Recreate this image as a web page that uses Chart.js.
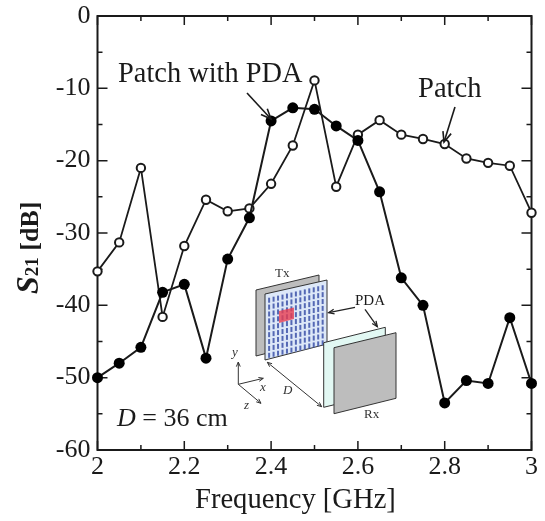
<!DOCTYPE html>
<html>
<head>
<meta charset="utf-8">
<title>S21 vs frequency</title>
<script src="https://cdn.jsdelivr.net/npm/chart.js@4/dist/chart.umd.min.js"></script>
<style>
    html, body { margin: 0; padding: 0; background: #fff; }
    canvas { display: block; }
</style>
</head>
<body>
<canvas id="chart" width="545" height="521"></canvas>
<script>
const frequency = [2, 2.05, 2.1, 2.15, 2.2, 2.25, 2.3, 2.35, 2.4, 2.45, 2.5, 2.55, 2.6, 2.65, 2.7, 2.75, 2.8, 2.85, 2.9, 2.95, 3];
const patch = [-35.3, -31.3, -21, -41.6, -31.8, -25.4, -27, -26.6, -23.2, -17.9, -8.9, -23.6, -16.4, -14.4, -16.4, -17, -17.7, -19.7, -20.3, -20.7, -27.2];
const patchWithPda = [-50, -48, -45.8, -38.2, -37.1, -47.3, -33.6, -27.9, -14.5, -12.7, -12.9, -15.2, -17.2, -24.3, -36.2, -40, -53.5, -50.4, -50.8, -41.7, -50.8];

const SERIF = '"Liberation Serif", "Times New Roman", serif';
const INK = '#1a1a1a';

function toPoints(values) {
    return frequency.map((f, i) => ({ x: f, y: values[i] }));
}

function poly(ctx, pts, fill, stroke) {
    ctx.beginPath();
    pts.forEach((p, i) => i ? ctx.lineTo(p[0], p[1]) : ctx.moveTo(p[0], p[1]));
    ctx.closePath();
    if (fill) { ctx.fillStyle = fill; ctx.fill(); }
    if (stroke) { ctx.strokeStyle = stroke; ctx.lineWidth = 1; ctx.stroke(); }
}

function arrow(ctx, x1, y1, x2, y2, size, width, color, both) {
    let head = (hx, hy, a) => {
        ctx.beginPath();
        ctx.moveTo(hx - size * Math.cos(a - 0.4), hy - size * Math.sin(a - 0.4));
        ctx.lineTo(hx, hy);
        ctx.lineTo(hx - size * Math.cos(a + 0.4), hy - size * Math.sin(a + 0.4));
        ctx.stroke();
    };
    let angle = Math.atan2(y2 - y1, x2 - x1);
    ctx.strokeStyle = color;
    ctx.lineWidth = width;
    ctx.beginPath();
    ctx.moveTo(x1, y1);
    ctx.lineTo(x2, y2);
    ctx.stroke();
    head(x2, y2, angle);
    if (both) head(x1, y1, angle + Math.PI);
}

function label(ctx, text, x, y, font, color) {
    ctx.font = font;
    ctx.fillStyle = color || INK;
    ctx.textAlign = 'left';
    ctx.textBaseline = 'alphabetic';
    ctx.fillText(text, x, y);
    return x + ctx.measureText(text).width;
}

// inward ticks on all four sides plus the frame
const frame = {
    id: 'frame',
    beforeDatasetsDraw(chart) {
        let ctx = chart.ctx;
        let area = chart.chartArea;
        ctx.save();
        ctx.strokeStyle = INK;
        ctx.lineWidth = 1.5;
        chart.scales.x.ticks.forEach((t) => {
            let px = chart.scales.x.getPixelForValue(t.value);
            let len = t.label === '' ? 5 : 9;
            ctx.beginPath();
            ctx.moveTo(px, area.top); ctx.lineTo(px, area.top + len);
            ctx.moveTo(px, area.bottom); ctx.lineTo(px, area.bottom - len);
            ctx.stroke();
        });
        chart.scales.y.ticks.forEach((t) => {
            let py = chart.scales.y.getPixelForValue(t.value);
            let len = t.label === '' ? 5 : 10;
            ctx.beginPath();
            ctx.moveTo(area.left, py); ctx.lineTo(area.left + len, py);
            ctx.moveTo(area.right, py); ctx.lineTo(area.right - len, py);
            ctx.stroke();
        });
        ctx.lineWidth = 2;
        ctx.strokeRect(area.left, area.top, area.right - area.left, area.bottom - area.top);
        ctx.restore();
    }
};

// antenna sketch, annotations and the axis titles with mixed styling
const notes = {
    id: 'notes',
    afterDatasetsDraw(chart) {
        let ctx = chart.ctx;
        ctx.save();

        poly(ctx, [[256, 290], [319, 275], [319, 340], [256, 356]], '#bdbdbd', '#333');
        poly(ctx, [[265, 294], [327, 280], [327, 344], [265, 360]], '#dde8f8', '#333');

        // patch array on the Tx board
        let cols = 13, rows = 9;
        ctx.fillStyle = '#5468b4';
        for (let c = 0; c < cols; c++) {
            for (let r = 0; r < rows; r++) {
                let u = (c + 0.25) / cols, v = (r + 0.14) / rows;
                let x = 267 + u * 58;
                let y = 297 - u * 13.5 + v * 62;
                ctx.fillRect(x, y, 2, 5);
            }
        }
        poly(ctx, [[279, 311], [294, 307.5], [294, 319], [279, 323]], 'rgba(232, 60, 80, 0.8)');

        poly(ctx, [[323.7, 342.7], [385.3, 327.3], [385.3, 392.3], [323.7, 407.3]], '#e2f8f3', '#333');
        poly(ctx, [[334, 347.7], [396, 332.7], [396, 398.3], [334, 413.7]], '#bdbdbd', '#333');

        arrow(ctx, 238.3, 384.3, 238.3, 362, 5, 1, '#333');
        arrow(ctx, 238.3, 384.3, 263.3, 378.3, 5, 1, '#333');
        arrow(ctx, 238.3, 384.3, 261, 403.3, 5, 1, '#333');
        arrow(ctx, 267.3, 362.3, 321.7, 406.7, 5, 1, '#333', true);
        arrow(ctx, 355, 307.3, 328.7, 312.7, 6, 1.3, '#222');
        arrow(ctx, 365, 309.3, 377.3, 326.7, 6, 1.3, '#222');

        label(ctx, 'Tx', 275, 277, '13px ' + SERIF, '#333');
        label(ctx, 'Rx', 364, 418, '13px ' + SERIF, '#333');
        label(ctx, 'PDA', 355, 305, '15px ' + SERIF);
        label(ctx, 'y', 232, 356, 'italic 13px ' + SERIF, '#333');
        label(ctx, 'x', 260, 391, 'italic 13px ' + SERIF, '#333');
        label(ctx, 'z', 244, 409, 'italic 13px ' + SERIF, '#333');
        label(ctx, 'D', 283, 394, 'italic 13px ' + SERIF, '#333');

        label(ctx, 'Patch with PDA', 118, 82, '28.4px ' + SERIF);
        label(ctx, 'Patch', 418, 97, '28.6px ' + SERIF);
        arrow(ctx, 247, 93, 271, 119, 11, 1.6, INK);
        arrow(ctx, 455, 107, 444, 142, 11, 1.6, INK);

        let end = label(ctx, 'D', 117, 426, 'italic 26px ' + SERIF);
        label(ctx, ' = 36 cm', end, 426, '26px ' + SERIF);

        label(ctx, 'Frequency [GHz]', 195, 508, '28.6px ' + SERIF);

        ctx.translate(38, 294);
        ctx.rotate(-Math.PI / 2);
        end = label(ctx, 'S', 0, 0, 'italic bold 32px ' + SERIF);
        end = label(ctx, '21', end, 0, 'bold 19px ' + SERIF);
        label(ctx, ' [dB]', end, 0, 'bold 26px ' + SERIF);
        ctx.restore();
    }
};

let chart = new Chart(document.getElementById('chart'), {
    type: 'line',
    data: {
        datasets: [{
            label: 'Patch with PDA',
            data: toPoints(patchWithPda),
            order: 1,
            borderColor: INK,
            borderWidth: 2,
            pointRadius: 5.5,
            pointBackgroundColor: '#000',
            pointBorderColor: '#000',
            pointBorderWidth: 0,
            tension: 0,
            clip: false,
        }, {
            label: 'Patch',
            data: toPoints(patch),
            order: 2,
            borderColor: INK,
            borderWidth: 1.8,
            pointRadius: 4.2,
            pointBackgroundColor: '#fff',
            pointBorderColor: INK,
            pointBorderWidth: 2,
            tension: 0,
            clip: false,
        }]
    },
    plugins: [frame, notes],
    options: {
        responsive: false,
        animation: false,
        layout: {
            padding: { left: 0, right: 13.5, top: 16, bottom: 0 },
        },
        plugins: {
            legend: { display: false },
            title: { display: false },
            tooltip: { enabled: false },
        },
        scales: {
            x: {
                type: 'linear',
                min: 2,
                max: 3,
                afterFit(scale) {
                    scale.height = 71;
                    scale.paddingLeft = 0;
                    scale.paddingRight = 0;
                },
                grid: { display: false, drawTicks: false },
                border: { display: false },
                ticks: {
                    stepSize: 0.1,
                    autoSkip: false,
                    maxRotation: 0,
                    padding: 2,
                    color: INK,
                    font: { family: SERIF, size: 26 },
                    callback(v) {
                        let tenths = Math.round(v * 10);
                        return tenths % 2 === 0 ? String(tenths / 10) : '';
                    },
                },
            },
            y: {
                min: -60,
                max: 0,
                afterFit(scale) {
                    scale.width = 97.5;
                    scale.paddingTop = 0;
                    scale.paddingBottom = 0;
                },
                grid: { display: false, drawTicks: false },
                border: { display: false },
                ticks: {
                    stepSize: 5,
                    autoSkip: false,
                    padding: 7,
                    color: INK,
                    font: { family: SERIF, size: 26 },
                    callback(v) {
                        return v % 10 === 0 ? String(v) : '';
                    },
                },
            },
        },
    },
});
</script>
</body>
</html>
